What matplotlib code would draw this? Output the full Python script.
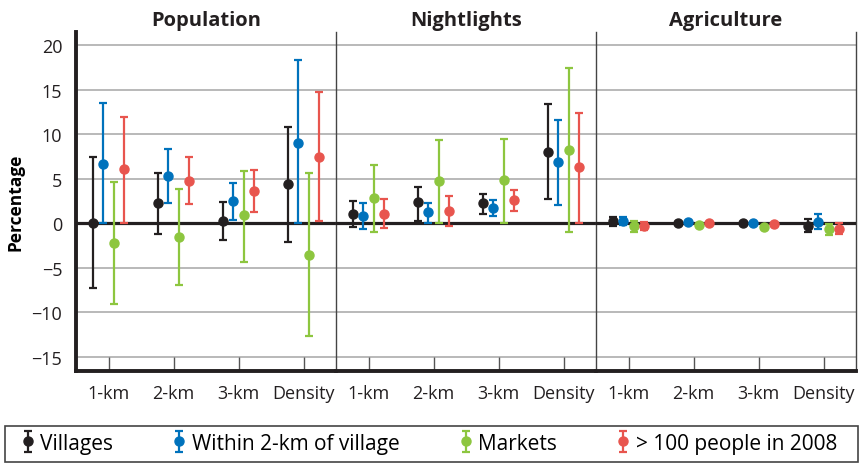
import numpy as np
import matplotlib.pyplot as plt
from matplotlib.patches import Rectangle

plt.rcParams['font.family'] = ['Open Sans', 'DejaVu Sans']

panels = ["Population", "Nightlights", "Agriculture"]
categories = ["1-km", "2-km", "3-km", "Density"]
series = ["Villages", "Within 2-km of village", "Markets", "> 100 people in 2008"]
colors = ["#231f20", "#0072bc", "#8dc63f", "#e8554e"]

# rows = series (villages, within 2-km, markets, >100 people), cols = categories
pop_est = [[0.05, 2.3, 0.25, 4.4], [6.7, 5.3, 2.5, 9.0], [-2.2, -1.5, 0.9, -3.55], [6.05, 4.8, 3.6, 7.4]]
pop_lo = [[-7.3, -1.2, -1.9, -2.1], [0.0, 2.3, 0.4, 0.0], [-9.1, -6.9, -4.3, -12.6], [0.0, 2.15, 1.3, 0.3]]
pop_hi = [[7.5, 5.7, 2.4, 10.8], [13.55, 8.3, 4.5, 18.3], [4.65, 3.9, 5.85, 5.6], [11.95, 7.45, 6.0, 14.7]]

nl_est = [[1.1, 2.35, 2.25, 8.0], [0.8, 1.25, 1.75, 6.85], [2.9, 4.75, 4.85, 8.2], [1.1, 1.4, 2.6, 6.3]]
nl_lo = [[-0.45, 0.3, 1.0, 2.7], [-0.65, 0.0, 0.8, 2.05], [-1.0, 0.0, 0.0, -1.0], [-0.5, -0.25, 1.4, 0.0]]
nl_hi = [[2.55, 4.1, 3.3, 13.35], [2.3, 2.25, 2.6, 11.6], [6.6, 9.35, 9.5, 17.4], [2.75, 3.1, 3.75, 12.4]]

ag_est = [[0.25, 0.05, 0.0, -0.35], [0.25, 0.1, 0.05, 0.2], [-0.35, -0.2, -0.45, -0.65], [-0.25, 0.05, -0.05, -0.6]]
ag_lo = [[-0.25, -0.1, -0.1, -0.95], [-0.2, -0.05, -0.05, -0.65], [-0.95, -0.35, -0.55, -1.3], [-0.8, -0.1, -0.15, -1.2]]
ag_hi = [[0.75, 0.2, 0.1, 0.45], [0.75, 0.25, 0.15, 1.0], [0.25, -0.05, -0.35, -0.1], [0.15, 0.2, 0.05, 0.0]]

panel_data = [(pop_est, pop_lo, pop_hi), (nl_est, nl_lo, nl_hi), (ag_est, ag_lo, ag_hi)]
offsets = [-0.235, -0.078, 0.078, 0.235]

fig, axes = plt.subplots(1, 3, figsize=(8.61, 4.64), dpi=100, sharey=True)
fig.subplots_adjust(left=0.0883, right=0.9942, top=0.929, bottom=0.198, wspace=0)

x = np.arange(len(categories))
handles = []
for i, ax in enumerate(axes):
    est, lo, hi = panel_data[i]
    for s in range(len(series)):
        e = np.array(est[s])
        yerr = [e - np.array(lo[s]), np.array(hi[s]) - e]
        h = ax.errorbar(x + offsets[s], e, yerr=yerr, fmt='o', color=colors[s],
                        ms=6.5, elinewidth=1.6, capsize=2.8, capthick=1.6, zorder=4)
        if i == 0:
            handles.append(h)
    ax.axhline(0, color='#231f20', lw=2.3, zorder=3)
    for yv in range(-15, 21, 5):
        if yv != 0:
            ax.axhline(yv, color='#b3b3b3', lw=1.3, zorder=1)
    ax.set_xlim(-0.5, 3.5)
    ax.set_ylim(-16.6, 21.5)
    ax.set_xticks(x)
    ax.set_xticklabels(categories, fontsize=13, color='#231f20')
    ax.tick_params(axis='x', direction='in', length=10, width=1, color='#555555', pad=9)
    ax.set_title(panels[i], fontsize=14.5, fontweight='bold', pad=5, color='#231f20')
    ax.spines['top'].set_visible(False)
    ax.spines['bottom'].set_linewidth(2.8)
    ax.spines['bottom'].set_color('#231f20')
    ax.spines['right'].set_visible(False)
    ax.spines['left'].set_linewidth(1)
    ax.spines['left'].set_color('#444444')
    if i > 0:
        ax.tick_params(axis='y', left=False)
    if i == 2:
        ax.spines['right'].set_visible(True)
        ax.spines['right'].set_linewidth(1)
        ax.spines['right'].set_color('#444444')

axes[0].spines['left'].set_linewidth(2.8)
axes[0].spines['left'].set_color('#231f20')
axes[0].set_yticks(range(-15, 21, 5))
axes[0].tick_params(axis='y', length=0, labelsize=13, pad=10, labelcolor='#231f20')
axes[0].set_ylabel("Percentage", fontsize=12.5, fontweight='bold', labelpad=5)

# legend box frame
fig.patches.append(Rectangle((0.006, 0.003), 0.99, 0.077, transform=fig.transFigure,
                             fill=False, edgecolor='#444444', lw=1.2))
fig.legend(handles, series, loc='center', ncol=4, mode='expand',
           bbox_to_anchor=(0.018, 0.003, 0.954, 0.077), fontsize=15,
           frameon=False, handlelength=1.2, handletextpad=0.0,
           handleheight=1.0, borderaxespad=0, borderpad=0)

fig.savefig("out.png", dpi=100)
